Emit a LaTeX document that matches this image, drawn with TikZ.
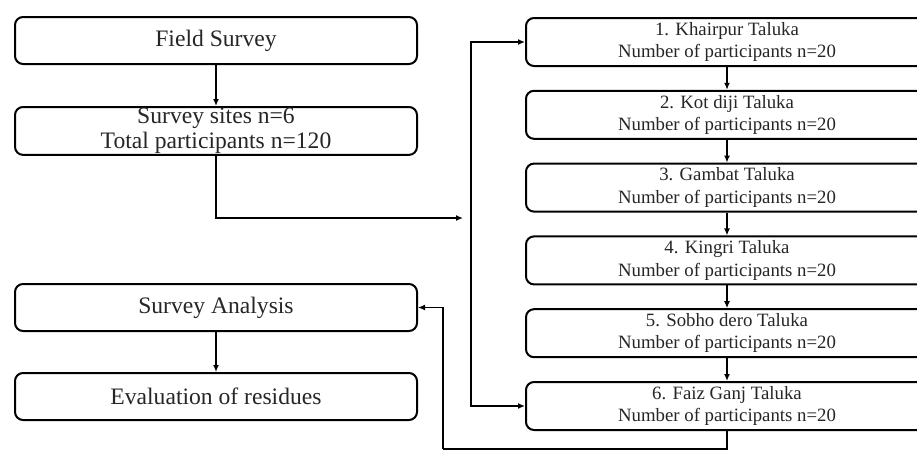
\documentclass[tikz,border=0pt]{standalone}
\usepackage{fontspec}
\setmainfont{Liberation Serif}
\usetikzlibrary{arrows.meta,positioning}

\begin{document}
\begin{tikzpicture}[%
    x=0.5pt,y=-0.5pt,>={Latex[length=3.5pt,width=3pt]},align=center]
    \tikzstyle{base}=[fill=white,draw=black,line width=1pt,rounded corners=4pt,text=black!85,inner ysep=0.5pt]
    \tikzstyle{stage}=[base,node distance=20.5pt,minimum width=201pt,minimum height=23.5pt,font=\fontsize{11.8}{12.6}\selectfont]
    \tikzstyle{taluka}=[base,node distance=11.4pt,minimum width=201pt,minimum height=24pt,font=\fontsize{9.4}{11.2}\selectfont]
    \tikzstyle{link}=[line width=0.75pt]
    \useasboundingbox (0,0) rectangle (917,450);
    % Left column
    \node (field) [stage,anchor=north west] at (14,16) {Field Survey};
    \node (sites) [stage,below=of field]
          {Survey sites n=6\\Total participants n=120};
    \node (analysis) [stage,anchor=north west] at (14,283) {Survey Analysis};
    \node (evaluation) [stage,below=20pt of analysis] {Evaluation of residues};
    % Right column
    \node (t1) [taluka,anchor=north west] at (525,17)
          {1. Khairpur Taluka\\Number of participants n=20};
    \node (t2) [taluka,below=of t1]
          {2. Kot diji Taluka\\Number of participants n=20};
    \node (t3) [taluka,below=of t2]
          {3. Gambat Taluka\\Number of participants n=20};
    \node (t4) [taluka,below=of t3]
          {4. Kingri Taluka\\Number of participants n=20};
    \node (t5) [taluka,below=of t4]
          {5. Sobho dero Taluka\\Number of participants n=20};
    \node (t6) [taluka,below=of t5]
          {6. Faiz Ganj Taluka\\Number of participants n=20};
    % Junctions
    \coordinate (split) at (463,218);
    \coordinate (bus) at (471,218);
    \coordinate (back) at (443,449);
    % Edges
    \draw [link,->] (field) -- (sites);
    \draw [link,->] (sites.south) |- (split);
    \draw [link,->] (bus) |- (t1.west);
    \draw [link,->] (bus) |- (t6.west);
    \draw [link,->] (t1) -- (t2);
    \draw [link,->] (t2) -- (t3);
    \draw [link,->] (t3) -- (t4);
    \draw [link,->] (t4) -- (t5);
    \draw [link,->] (t5) -- (t6);
    \draw [link] (t6.south) |- (back);
    \draw [link,->] (back) |- (analysis.east);
    \draw [link,->] (analysis) -- (evaluation);
  \end{tikzpicture}
\end{document}
